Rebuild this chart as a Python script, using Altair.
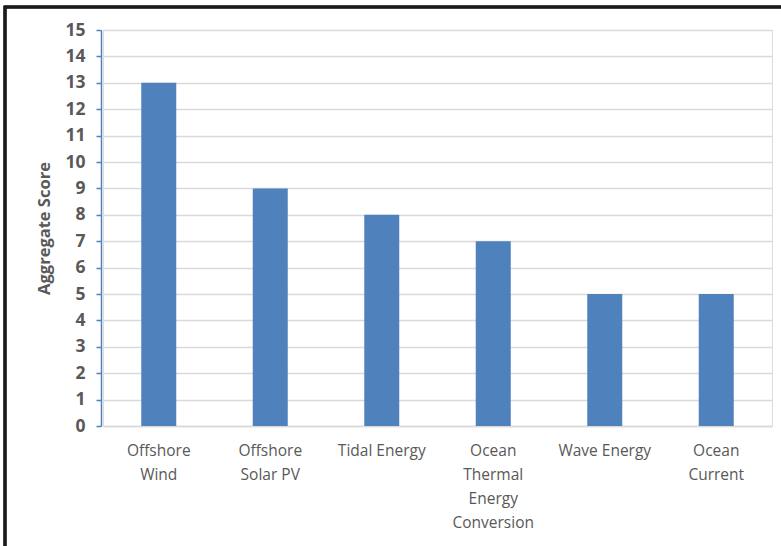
import altair as alt
import pandas as pd

categories = ["Offshore Wind", "Offshore Solar PV", "Tidal Energy",
              "Ocean Thermal Energy Conversion", "Wave Energy", "Ocean Current"]
scores = [13, 9, 8, 7, 5, 5]
y_ticks = list(range(0, 16))

df = pd.DataFrame({"category": categories, "score": scores})

FONT = "Open Sans"
TXT = "#595959"

label_expr = (
    "datum.value == 'Offshore Wind' ? ['Offshore', 'Wind'] : "
    "datum.value == 'Offshore Solar PV' ? ['Offshore', 'Solar PV'] : "
    "datum.value == 'Ocean Thermal Energy Conversion' ? ['Ocean', 'Thermal', 'Energy', 'Conversion'] : "
    "datum.value == 'Ocean Current' ? ['Ocean', 'Current'] : datum.value"
)

bars = alt.Chart(df).mark_bar(width=35, color="#4F81BD").encode(
    x=alt.X("category:N", sort=categories,
            scale=alt.Scale(paddingInner=0, paddingOuter=0),
            axis=alt.Axis(title=None, labelAngle=0, labelExpr=label_expr,
                          labelFont=FONT, labelFontSize=15.5, labelColor=TXT,
                          labelLineHeight=24, labelPadding=17, labelBaseline="top",
                          ticks=False, domainColor="#D9D9D9", domainWidth=1.5,
                          grid=False, labelLimit=200)),
    y=alt.Y("score:Q", scale=alt.Scale(domain=[0, 15], nice=False),
            axis=alt.Axis(title="Aggregate Score", values=y_ticks, offset=2,
                          titleFont=FONT, titleFontSize=16.5, titleFontWeight="bold",
                          titleColor=TXT, titlePadding=12,
                          labelFont=FONT, labelFontSize=17.5, labelFontWeight="bold",
                          labelColor=TXT, labelPadding=11,
                          domainColor="#4F81BD", domainWidth=1.5,
                          tickColor="#4F81BD", tickSize=5, tickWidth=1.5,
                          grid=True, gridColor="#D9D9D9", gridWidth=1.5)),
)

frame = alt.Chart(df).mark_rect(fill=None, stroke="#1a1a1a", strokeWidth=2.5, clip=False).encode(
    x=alt.value(-98), x2=alt.value(700), y=alt.value(-23), y2=alt.value(540)
)

chart = alt.layer(bars, frame).properties(
    width=669, height=396,
    autosize=alt.AutoSizeParams(type="none"),
    padding={"left": 103, "top": 30, "right": 9, "bottom": 120},
).configure_view(stroke=None).configure(background="white")

chart.save("out.html", embed_options={"renderer": "svg", "actions": False})
